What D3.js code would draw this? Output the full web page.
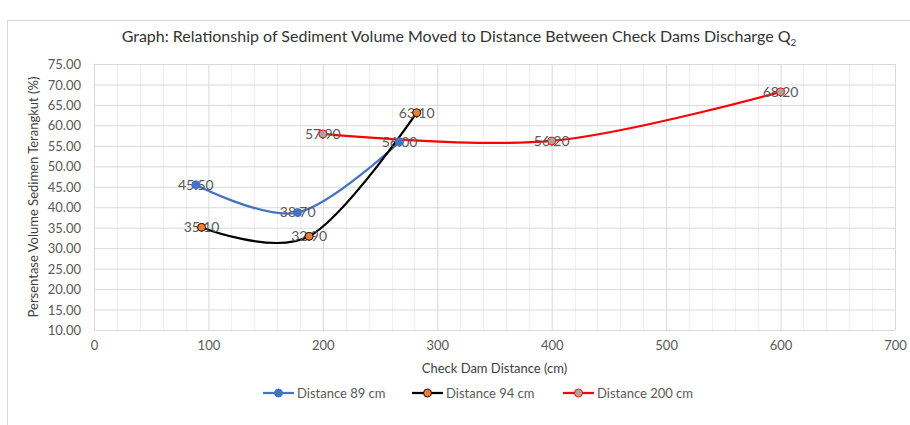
<!DOCTYPE html>
<html>
<head>
<meta charset="utf-8">
<script src="https://cdn.jsdelivr.net/npm/d3@7/dist/d3.min.js"></script>
<style>
  html, body { margin: 0; padding: 0; background: #ffffff; }
  svg { display: block; font-family: Lato, "Open Sans", sans-serif; }
</style>
</head>
<body>
<svg id="chart" width="910" height="425"></svg>
<script>
// Series: check dam distance (cm) vs. sediment volume moved (%)
const seriesNames = ["Distance 89 cm", "Distance 94 cm", "Distance 200 cm"];
const dist89X = [89, 178, 267];
const dist89Y = [45.50, 38.70, 56.00];
const dist94X = [94, 188, 282];
const dist94Y = [35.10, 32.90, 63.10];
const dist200X = [200, 400, 600];
const dist200Y = [57.90, 56.20, 68.20];

const xTicks = [0, 100, 200, 300, 400, 500, 600, 700];
const yTicks = [10, 15, 20, 25, 30, 35, 40, 45, 50, 55, 60, 65, 70, 75];

const styles = [
  { line: "#4472C4", fill: "#4472C4", stroke: "#4472C4" },
  { line: "#000000", fill: "#ED7D31", stroke: "#000000" },
  { line: "#FF0000", fill: "#A5A5A5", stroke: "#FF0000" }
];

const series = [
  { name: seriesNames[0], pts: dist89X.map((x, i) => ({ x, y: dist89Y[i] })) },
  { name: seriesNames[1], pts: dist94X.map((x, i) => ({ x, y: dist94Y[i] })) },
  { name: seriesNames[2], pts: dist200X.map((x, i) => ({ x, y: dist200Y[i] })) }
];

const svg = d3.select("#chart");
const plot = { left: 94, right: 895, top: 64, bottom: 330 };

// chart frame
svg.append("rect")
  .attr("x", 7.5).attr("y", 20.5)
  .attr("width", 1000).attr("height", 600)
  .attr("fill", "#ffffff").attr("stroke", "#d9d9d9").attr("stroke-width", 1);

const x = d3.scaleLinear().domain([0, 700]).range([plot.left, plot.right]);
const y = d3.scaleLinear().domain([10, 75]).range([plot.bottom, plot.top]);

// minor vertical gridlines (every 20)
const minorX = d3.range(0, 701, 20).filter(v => v % 100 !== 0);
svg.append("g").selectAll("line").data(minorX).join("line")
  .attr("x1", d => Math.round(x(d)) + 0.5).attr("x2", d => Math.round(x(d)) + 0.5)
  .attr("y1", plot.top).attr("y2", plot.bottom)
  .attr("stroke", "#f0f0f0").attr("stroke-width", 1);

// major gridlines
const gx = svg.append("g")
  .attr("transform", `translate(0,${plot.bottom})`)
  .call(d3.axisBottom(x).tickValues(xTicks).tickSize(-(plot.bottom - plot.top)).tickFormat(d3.format("d")).tickPadding(11));
const gy = svg.append("g")
  .attr("transform", `translate(${plot.left},0)`)
  .call(d3.axisLeft(y).tickValues(yTicks).tickSize(-(plot.right - plot.left)).tickFormat(d3.format(".2f")).tickPadding(13));

[gx, gy].forEach(g => {
  g.select(".domain").remove();
  g.selectAll(".tick line").attr("stroke", "#d9d9d9").attr("stroke-width", 1);
  g.selectAll(".tick text")
    .attr("fill", "#595959")
    .style("font-family", "Lato, 'Open Sans', sans-serif")
    .style("font-size", "13px");
});
gy.selectAll(".tick text").attr("dy", "0.35em");

// curves (smoothed lines)
const line = d3.line()
  .x(d => x(d.x)).y(d => y(d.y))
  .curve(d3.curveCardinal.tension(0));

const fmt = d3.format(".2f");

series.forEach((s, i) => {
  svg.append("path")
    .datum(s.pts)
    .attr("d", line)
    .attr("fill", "none")
    .attr("stroke", styles[i].line)
    .attr("stroke-width", 2.25)
    .attr("stroke-linecap", "round");
});

// value labels
series.forEach((s, i) => {
  svg.append("g").selectAll("text").data(s.pts).join("text")
    .attr("x", d => x(d.x)).attr("y", d => y(d.y))
    .attr("dy", "0.35em")
    .attr("text-anchor", "middle")
    .attr("fill", "#595959")
    .style("font-size", "14px")
    .text(d => fmt(d.y));
});

// markers
series.forEach((s, i) => {
  svg.append("g").selectAll("circle").data(s.pts).join("circle")
    .attr("cx", d => x(d.x)).attr("cy", d => y(d.y))
    .attr("r", 4)
    .attr("fill", styles[i].fill)
    .attr("stroke", styles[i].stroke)
    .attr("stroke-width", 0.9);
});

// title
const title = svg.append("text")
  .attr("x", 459).attr("y", 42)
  .attr("text-anchor", "middle")
  .attr("fill", "#333333")
  .style("font-size", "16px")
  .text("Graph: Relationship of Sediment Volume Moved to Distance Between Check Dams Discharge Q");
title.append("tspan").attr("dy", 4).style("font-size", "10px").text("2");

// axis titles
svg.append("text")
  .attr("x", (plot.left + plot.right) / 2).attr("y", 373)
  .attr("text-anchor", "middle")
  .attr("fill", "#404040")
  .style("font-size", "13px")
  .text("Check Dam Distance (cm)");

svg.append("text")
  .attr("transform", `translate(38,${(plot.top + plot.bottom) / 2}) rotate(-90)`)
  .attr("text-anchor", "middle")
  .attr("fill", "#404040")
  .style("font-size", "13px")
  .text("Persentase Volume Sedimen Terangkut (%)");

// legend
const legendItems = [
  { x: 263, name: seriesNames[0] },
  { x: 412, name: seriesNames[1] },
  { x: 563, name: seriesNames[2] }
];
const ly = 393;
legendItems.forEach((item, i) => {
  const g = svg.append("g");
  g.append("line")
    .attr("x1", item.x).attr("x2", item.x + 31)
    .attr("y1", ly).attr("y2", ly)
    .attr("stroke", styles[i].line).attr("stroke-width", 2.25);
  g.append("circle")
    .attr("cx", item.x + 15.5).attr("cy", ly).attr("r", 4)
    .attr("fill", styles[i].fill).attr("stroke", styles[i].stroke).attr("stroke-width", 0.9);
  g.append("text")
    .attr("x", item.x + 34).attr("y", ly).attr("dy", "0.35em")
    .attr("fill", "#595959")
    .style("font-size", "13px")
    .text(item.name);
});
</script>
</body>
</html>
